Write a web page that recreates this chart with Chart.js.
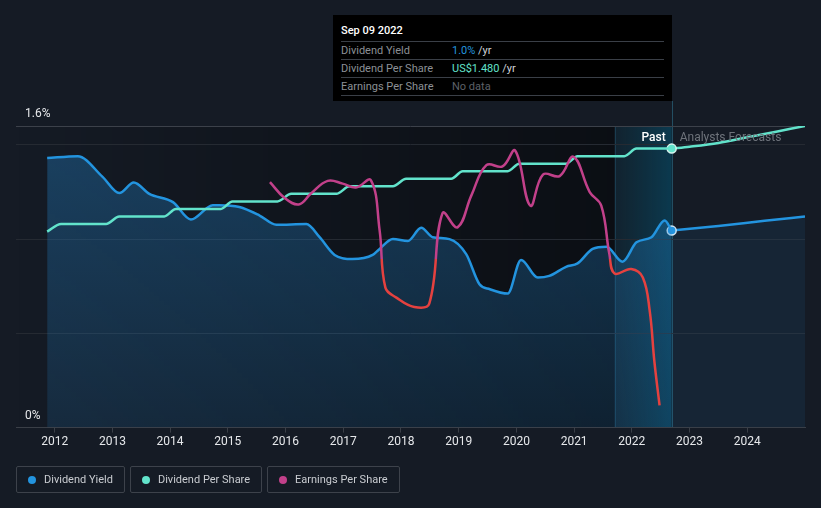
<!DOCTYPE html>
<html>
<head>
<meta charset="utf-8">
<script src="https://cdn.jsdelivr.net/npm/chart.js@4.4.0/dist/chart.umd.min.js"></script>
<style>
  html, body { margin: 0; padding: 0; background: #151b25; }
  .wrap { position: relative; width: 821px; height: 508px; font-family: Roboto, "Noto Sans", sans-serif; }
  canvas { position: absolute; left: 0; top: 0; }
  .tip { position: absolute; left: 333px; top: 15px; width: 339px; height: 86px; background: #000; box-sizing: border-box; padding: 0 8px; }
  .tip .ttl { color: #fff; font-size: 11px; font-weight: 500; height: 26px; line-height: 32px; border-bottom: 1px solid #3a3f47; }
  .tip .row { height: 17px; line-height: 17px; font-size: 11px; color: #8c9096; border-bottom: 1px solid #3a3f47; position: relative; }
  .tip .row span.v { position: absolute; left: 111px; }
  .tip .row span.u { color: #d0d3d8; }
  .legend { position: absolute; top: 466px; left: 16px; display: flex; gap: 5px; }
  .legend div { height: 27px; border: 1px solid #3d424b; border-radius: 2px; box-sizing: border-box; padding: 0 11px 0 11px; color: #c9ccd1; font-size: 11px; line-height: 25px; display: flex; align-items: center; }
  .legend i { display: inline-block; width: 8px; height: 8px; border-radius: 50%; margin-right: 8px; }
</style>
</head>
<body>
<div class="wrap">
  <canvas id="chart" width="821" height="508"></canvas>
  <div class="tip">
    <div class="ttl">Sep 09 2022</div>
    <div class="row">Dividend Yield<span class="v"><span style="color:#2394df">1.0%</span> <span class="u">/yr</span></span></div>
    <div class="row">Dividend Per Share<span class="v"><span style="color:#62e3cb">US$1.480</span> <span class="u">/yr</span></span></div>
    <div class="row">Earnings Per Share<span class="v" style="color:#5d6168">No data</span></div>
  </div>
  <div class="legend">
    <div><i style="background:#2394df"></i>Dividend Yield</div>
    <div><i style="background:#62e3cb"></i>Dividend Per Share</div>
    <div><i style="background:#c2408a"></i>Earnings Per Share</div>
  </div>
</div>
<script>
// Даты в долях года
const yieldDates = [2011.87, 2012.40, 2012.83, 2013.12, 2013.37, 2013.64, 2014.05, 2014.36, 2014.74, 2014.85, 2015.20, 2015.55, 2015.84, 2016.36, 2016.59, 2016.85, 2017.16, 2017.51, 2017.63, 2017.86, 2018.12, 2018.35, 2018.55, 2018.84, 2019.13, 2019.36, 2019.54, 2019.85, 2020.08, 2020.37, 2020.57, 2020.86, 2021.06, 2021.32, 2021.56, 2021.84, 2022.08, 2022.34, 2022.57, 2022.69];
const yieldValues = [1.43, 1.44, 1.33, 1.244, 1.30, 1.24, 1.196, 1.104, 1.18, 1.18, 1.17, 1.125, 1.076, 1.08, 1.01, 0.916, 0.894, 0.916, 0.948, 1.0, 0.99, 1.06, 1.01, 1.0, 0.92, 0.76, 0.734, 0.711, 0.889, 0.796, 0.805, 0.853, 0.871, 0.948, 0.96, 0.88, 0.983, 1.01, 1.099, 1.045];
const yieldFcDates = [2022.69, 2023.5, 2024.3, 2025.0];
const yieldFcValues = [1.045, 1.07, 1.097, 1.12];

const dpsDates = [2011.87, 2012.11, 2012.89, 2013.12, 2013.90, 2014.10, 2014.88, 2015.08, 2015.86, 2016.10, 2016.88, 2017.11, 2017.86, 2018.09, 2018.87, 2019.07, 2019.85, 2020.05, 2020.86, 2021.06, 2021.87, 2022.08, 2022.69];
const dpsValues = [1.04, 1.08, 1.08, 1.12, 1.12, 1.16, 1.16, 1.20, 1.20, 1.24, 1.24, 1.28, 1.28, 1.32, 1.32, 1.36, 1.36, 1.40, 1.40, 1.44, 1.44, 1.48, 1.48];
const dpsFcDates = [2022.69, 2023.0, 2023.5, 2024.0, 2024.5, 2025.0];
const dpsFcValues = [1.48, 1.49, 1.51, 1.54, 1.57, 1.60];

const epsDates = [2015.73, 2015.98, 2016.23, 2016.44, 2016.73, 2016.99, 2017.22, 2017.48, 2017.63, 2017.73, 2017.92, 2018.23, 2018.49, 2018.72, 2018.98, 2019.22, 2019.48, 2019.76, 2019.98, 2020.24, 2020.46, 2020.75, 2020.99, 2021.27, 2021.47, 2021.61, 2021.70, 2021.99, 2022.19, 2022.31, 2022.39, 2022.48];
const epsValues = [1.27, 1.01, 0.90, 1.08, 1.29, 1.245, 1.18, 1.30, 0.47, -0.48, -0.645, -0.80, -0.745, 0.755, 0.52, 1.05, 1.55, 1.53, 1.79, 0.88, 1.395, 1.37, 1.69, 1.105, 0.88, 0.08, -0.245, -0.17, -0.31, -0.87, -1.70, -2.43];

const yTicks = [0, 0.5, 1.0, 1.5, 1.6];
const xTicks = [2012, 2013, 2014, 2015, 2016, 2017, 2018, 2019, 2020, 2021, 2022, 2023, 2024];
const bandStart = 2021.7;
const nowDate = 2022.69;

const pts = (xs, ys) => xs.map((x, i) => ({ x: x, y: ys[i] }));

// Фон: затемнение прошлого и подсветка последнего года
const bgPlugin = {
    id: 'bg',
    beforeDraw(chart) {
        const { ctx, chartArea: a, scales } = chart;
        const xb = scales.x.getPixelForValue(bandStart);
        const xn = scales.x.getPixelForValue(nowDate);
        ctx.save();
        let g = ctx.createLinearGradient(a.left, 0, xb, 0);
        g.addColorStop(0, 'rgba(0,0,0,0)');
        g.addColorStop(1, 'rgba(0,0,0,0.45)');
        ctx.fillStyle = g;
        ctx.fillRect(a.left, a.top, xb - a.left, a.bottom - a.top);
        g = ctx.createLinearGradient(xb, 0, xn, 0);
        g.addColorStop(0, 'rgba(0,90,120,0.12)');
        g.addColorStop(1, 'rgba(0,95,130,0.45)');
        ctx.fillStyle = g;
        ctx.fillRect(xb, a.top, xn - xb, a.bottom - a.top);
        ctx.fillStyle = 'rgba(40,110,140,0.35)';
        ctx.fillRect(Math.round(xb), a.top, 1, a.bottom - a.top);
        ctx.fillStyle = 'rgba(50,130,160,0.5)';
        ctx.fillRect(Math.round(xn), 101, 1, a.bottom - 101);
        ctx.restore();
    },
    afterDraw(chart) {
        const { ctx, chartArea: a, scales } = chart;
        const xn = scales.x.getPixelForValue(nowDate);
        ctx.save();
        ctx.font = '500 12px Roboto';
        ctx.textBaseline = 'middle';
        ctx.textAlign = 'right';
        ctx.fillStyle = '#ffffff';
        ctx.fillText('Past', xn - 6, a.top + 12);
        ctx.font = '12px Roboto';
        ctx.textAlign = 'left';
        ctx.fillStyle = '#6e737b';
        ctx.fillText('Analysts Forecasts', xn + 8, a.top + 12);
        ctx.restore();
    }
};

const yieldFill = (context) => {
    const { ctx, chartArea } = context.chart;
    if (!chartArea) return 'rgba(35,148,223,0.2)';
    const g = ctx.createLinearGradient(0, chartArea.top, 0, chartArea.bottom);
    g.addColorStop(0, 'rgba(35,130,200,0.38)');
    g.addColorStop(1, 'rgba(35,130,200,0.16)');
    return g;
};

// Цвет EPS: выше нуля розовый, ниже — красный
const epsColor = (context) => {
    const { ctx, chartArea, scales } = context.chart;
    if (!chartArea) return '#c2408a';
    const z = scales.yEps.getPixelForValue(0);
    const t = Math.min(Math.max((z - chartArea.top) / (chartArea.bottom - chartArea.top), 0), 1);
    const g = ctx.createLinearGradient(0, chartArea.top, 0, chartArea.bottom);
    g.addColorStop(0, '#c2408a');
    g.addColorStop(t, '#c2408a');
    g.addColorStop(t, '#e5413f');
    g.addColorStop(1, '#e5413f');
    return g;
};

const marker = (ctx) => ctx.dataIndex === 0 ? 4.5 : 0;

const ctx = document.getElementById('chart').getContext('2d');
const chart = new Chart(ctx, {
    type: 'line',
    data: {
        datasets: [
            {
                label: 'Earnings Per Share',
                data: pts(epsDates, epsValues),
                yAxisID: 'yEps',
                borderColor: epsColor,
                borderWidth: 2.5,
                pointRadius: 0,
                tension: 0.4,
                fill: false
            },
            {
                label: 'Dividend Per Share',
                data: pts(dpsDates, dpsValues),
                yAxisID: 'yDps',
                borderColor: '#62e3cb',
                borderWidth: 2.5,
                pointRadius: 0,
                cubicInterpolationMode: 'monotone',
                fill: false
            },
            {
                label: 'DPS forecast',
                data: pts(dpsFcDates, dpsFcValues),
                yAxisID: 'yDps',
                borderColor: '#62e3cb',
                borderWidth: 2.5,
                pointRadius: marker,
                pointBackgroundColor: '#62e3cb',
                pointBorderColor: '#d8f5ef',
                pointBorderWidth: 1.5,
                cubicInterpolationMode: 'monotone',
                fill: false
            },
            {
                label: 'Dividend Yield',
                data: pts(yieldDates, yieldValues),
                yAxisID: 'y',
                borderColor: '#2394df',
                borderWidth: 2.5,
                pointRadius: 0,
                cubicInterpolationMode: 'monotone',
                fill: 'origin',
                backgroundColor: yieldFill
            },
            {
                label: 'Yield forecast',
                data: pts(yieldFcDates, yieldFcValues),
                yAxisID: 'y',
                borderColor: '#2394df',
                borderWidth: 2.5,
                pointRadius: marker,
                pointBackgroundColor: '#2394df',
                pointBorderColor: '#d0e6f5',
                pointBorderWidth: 1.5,
                cubicInterpolationMode: 'monotone',
                fill: 'origin',
                backgroundColor: 'rgba(35,130,200,0.1)'
            }
        ]
    },
    options: {
        responsive: false,
        animation: false,
        layout: { padding: { left: 16, right: 16, top: 126, bottom: 57 } },
        plugins: {
            legend: { display: false },
            tooltip: { enabled: false }
        },
        scales: {
            x: {
                type: 'linear',
                min: 2011.33,
                max: 2025.0,
                afterBuildTicks: (scale) => { scale.ticks = xTicks.map(v => ({ value: v })); },
                ticks: {
                    color: '#e6e8eb',
                    font: { family: 'Roboto', size: 12 },
                    padding: 2,
                    maxRotation: 0,
                    autoSkip: false,
                    callback: (v) => String(v)
                },
                grid: { drawOnChartArea: false, color: '#3a3f47', tickLength: 5 },
                border: { color: '#3a3f47' }
            },
            y: {
                position: 'left',
                min: 0,
                max: 1.6,
                afterBuildTicks: (scale) => { scale.ticks = yTicks.map(v => ({ value: v })); },
                afterFit: (scale) => { scale.width = 0; },
                ticks: {
                    mirror: true,
                    padding: 9,
                    labelOffset: -12,
                    color: '#e6e8eb',
                    font: { family: 'Roboto', size: 12 },
                    callback: (v) => v === 0 ? '0%' : (v === 1.6 ? '1.6%' : '')
                },
                grid: {
                    drawTicks: false,
                    color: (c) => (c.tick && (c.tick.value === 1.6)) ? '#3c414a' : '#252a32'
                },
                border: { display: false }
            },
            yDps: { display: false, min: 0, max: 1.6 },
            yEps: { display: false, min: -2.8, max: 2.2 }
        }
    },
    plugins: [bgPlugin]
});
</script>
</body>
</html>
